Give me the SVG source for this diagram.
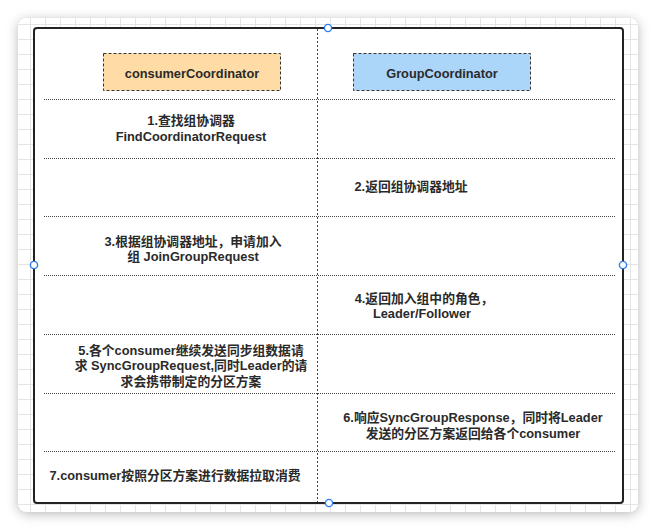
<svg xmlns="http://www.w3.org/2000/svg" width="656" height="530" viewBox="0 0 656 530">
  <style>
    .t { font-family: "Liberation Sans", "Noto Sans CJK SC", sans-serif; font-size: 12.8px; font-weight: bold; fill: #2a2a2a; text-anchor: middle; }
    .dot { stroke: #444; stroke-width: 1; stroke-dasharray: 1 1; fill: none; }
    .vdot { stroke: #444; stroke-width: 1; stroke-dasharray: 2 2; fill: none; }
    .hdr { stroke: #333; stroke-width: 1; stroke-dasharray: 3 2; }
    .handle { fill: #fff; stroke: #2b7cf0; stroke-width: 1.4; }
  </style>
  <defs>
    <filter id="sh" x="-10%" y="-10%" width="120%" height="120%">
      <feDropShadow dx="0" dy="2" stdDeviation="6" flood-color="#000" flood-opacity="0.28"/>
    </filter>
    <pattern id="grid" x="30" y="24" width="15" height="15" patternUnits="userSpaceOnUse">
      <path d="M0.5 0 V15 M0 0.5 H15" stroke="#e4e4e4" stroke-width="1" fill="none"/>
    </pattern>
    <clipPath id="pc"><rect x="18" y="18" width="620" height="494" rx="9"/></clipPath>
  </defs>
  <rect width="656" height="530" fill="#fff"/>
  <rect x="18" y="18" width="620" height="494" rx="9" fill="#fff" filter="url(#sh)"/>
  <rect x="18" y="18" width="620" height="494" fill="url(#grid)" clip-path="url(#pc)"/>

  <g id="frame">
    <rect x="34" y="28" width="589" height="475" rx="3" fill="#fff" stroke="#222" stroke-width="2"/>
  </g>

  <g id="connectors">
    <line class="vdot" x1="317.5" y1="29" x2="317.5" y2="502"/>
    <line class="dot" x1="44" y1="99.5" x2="616" y2="99.5"/>
    <line class="dot" x1="44" y1="158.5" x2="616" y2="158.5"/>
    <line class="dot" x1="44" y1="216.5" x2="616" y2="216.5"/>
    <line class="dot" x1="44" y1="275.5" x2="616" y2="275.5"/>
    <line class="dot" x1="44" y1="334.5" x2="616" y2="334.5"/>
    <line class="dot" x1="44" y1="393.5" x2="616" y2="393.5"/>
    <line class="dot" x1="44" y1="451.5" x2="616" y2="451.5"/>
  </g>

  <g id="consumerCoordinator">
    <rect class="hdr" x="103.5" y="53.5" width="177" height="37" fill="#ffdca6"/>
    <text class="t" x="192" y="77.5">consumerCoordinator</text>
  </g>
  <g id="GroupCoordinator">
    <rect class="hdr" x="353.5" y="53.5" width="177" height="37" fill="#acd5fa"/>
    <text class="t" x="442" y="77.5">GroupCoordinator</text>
  </g>

  <g id="step1">
    <text class="t" x="191" y="125">1.查找组协调器</text>
    <text class="t" x="191" y="140.5">FindCoordinatorRequest</text>
  </g>
  <g id="step2">
    <text class="t" x="411" y="191">2.返回组协调器地址</text>
  </g>
  <g id="step3">
    <text class="t" x="193" y="245.5">3.根据组协调器地址，申请加入</text>
    <text class="t" x="193" y="261">组 JoinGroupRequest</text>
  </g>
  <g id="step4">
    <text class="t" x="424" y="302.5">4.返回加入组中的角色，</text>
    <text class="t" x="422" y="318">Leader/Follower</text>
  </g>
  <g id="step5">
    <text class="t" x="191" y="354.5">5.各个consumer继续发送同步组数据请</text>
    <text class="t" x="191" y="370">求 SyncGroupRequest,同时Leader的请</text>
    <text class="t" x="191" y="385.5">求会携带制定的分区方案</text>
  </g>
  <g id="step6">
    <text class="t" x="473" y="422">6.响应SyncGroupResponse，同时将Leader</text>
    <text class="t" x="473" y="437.5">发送的分区方案返回给各个consumer</text>
  </g>
  <g id="step7">
    <text class="t" x="175" y="479.5">7.consumer按照分区方案进行数据拉取消费</text>
  </g>

  <g id="handles">
    <circle class="handle" cx="328" cy="28" r="3.6"/>
    <circle class="handle" cx="34" cy="265" r="3.6"/>
    <circle class="handle" cx="623" cy="265" r="3.6"/>
    <circle class="handle" cx="329" cy="503" r="3.6"/>
  </g>
</svg>
